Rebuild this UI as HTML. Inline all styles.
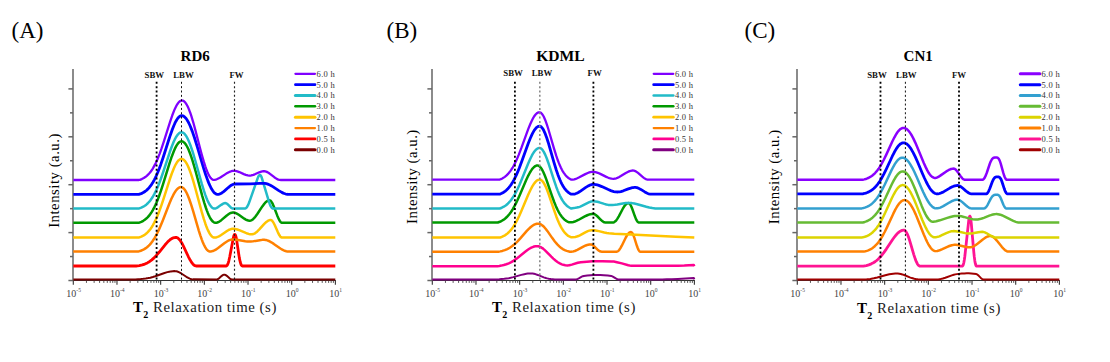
<!DOCTYPE html><html><head><meta charset="utf-8"><style>html,body{margin:0;padding:0;background:#fff;width:1110px;height:362px;overflow:hidden}svg{display:block}text{font-family:"Liberation Serif",serif}</style></head><body>
<svg width="1110" height="362" viewBox="0 0 1110 362">
<g><text x="11.5" y="37.7" font-size="23" fill="#000">(A)</text><text x="195.2" y="61.2" font-size="15" font-weight="bold" text-anchor="middle" fill="#000">RD6</text><text x="154.35" y="78.1" font-size="8.8" font-weight="bold" text-anchor="middle" fill="#111">SBW</text><text x="183.5" y="78.1" font-size="8.8" font-weight="bold" text-anchor="middle" fill="#111">LBW</text><text x="236.6" y="78.1" font-size="8.8" font-weight="bold" text-anchor="middle" fill="#111">FW</text><line x1="73" y1="69" x2="73" y2="280.5" stroke="#777" stroke-width="1.7"/><line x1="73.3" y1="280.5" x2="335.88" y2="280.5" stroke="#333" stroke-width="1.1"/><line x1="68.4" y1="280.5" x2="73" y2="280.5" stroke="#666" stroke-width="1.5"/><line x1="70" y1="256.55" x2="73" y2="256.55" stroke="#666" stroke-width="1.5"/><line x1="68.4" y1="232.6" x2="73" y2="232.6" stroke="#666" stroke-width="1.5"/><line x1="70" y1="208.65" x2="73" y2="208.65" stroke="#666" stroke-width="1.5"/><line x1="68.4" y1="184.7" x2="73" y2="184.7" stroke="#666" stroke-width="1.5"/><line x1="70" y1="160.75" x2="73" y2="160.75" stroke="#666" stroke-width="1.5"/><line x1="68.4" y1="136.8" x2="73" y2="136.8" stroke="#666" stroke-width="1.5"/><line x1="70" y1="112.85" x2="73" y2="112.85" stroke="#666" stroke-width="1.5"/><line x1="68.4" y1="88.9" x2="73" y2="88.9" stroke="#666" stroke-width="1.5"/><line x1="73.3" y1="280.5" x2="73.3" y2="284.8" stroke="#333" stroke-width="1.1"/><line x1="86.45" y1="280.5" x2="86.45" y2="282.9" stroke="#444" stroke-width="0.9"/><line x1="94.14" y1="280.5" x2="94.14" y2="282.9" stroke="#444" stroke-width="0.9"/><line x1="99.6" y1="280.5" x2="99.6" y2="282.9" stroke="#444" stroke-width="0.9"/><line x1="103.83" y1="280.5" x2="103.83" y2="282.9" stroke="#444" stroke-width="0.9"/><line x1="107.29" y1="280.5" x2="107.29" y2="282.9" stroke="#444" stroke-width="0.9"/><line x1="110.21" y1="280.5" x2="110.21" y2="282.9" stroke="#444" stroke-width="0.9"/><line x1="112.75" y1="280.5" x2="112.75" y2="282.9" stroke="#444" stroke-width="0.9"/><line x1="114.98" y1="280.5" x2="114.98" y2="282.9" stroke="#444" stroke-width="0.9"/><text x="73.6" y="297.3" font-size="10" fill="#444" text-anchor="middle">10<tspan dy="-5.5" font-size="5.5">-5</tspan></text><line x1="116.98" y1="280.5" x2="116.98" y2="284.8" stroke="#333" stroke-width="1.1"/><line x1="130.13" y1="280.5" x2="130.13" y2="282.9" stroke="#444" stroke-width="0.9"/><line x1="137.82" y1="280.5" x2="137.82" y2="282.9" stroke="#444" stroke-width="0.9"/><line x1="143.28" y1="280.5" x2="143.28" y2="282.9" stroke="#444" stroke-width="0.9"/><line x1="147.51" y1="280.5" x2="147.51" y2="282.9" stroke="#444" stroke-width="0.9"/><line x1="150.97" y1="280.5" x2="150.97" y2="282.9" stroke="#444" stroke-width="0.9"/><line x1="153.89" y1="280.5" x2="153.89" y2="282.9" stroke="#444" stroke-width="0.9"/><line x1="156.43" y1="280.5" x2="156.43" y2="282.9" stroke="#444" stroke-width="0.9"/><line x1="158.66" y1="280.5" x2="158.66" y2="282.9" stroke="#444" stroke-width="0.9"/><text x="117.28" y="297.3" font-size="10" fill="#444" text-anchor="middle">10<tspan dy="-5.5" font-size="5.5">-4</tspan></text><line x1="160.66" y1="280.5" x2="160.66" y2="284.8" stroke="#333" stroke-width="1.1"/><line x1="173.81" y1="280.5" x2="173.81" y2="282.9" stroke="#444" stroke-width="0.9"/><line x1="181.5" y1="280.5" x2="181.5" y2="282.9" stroke="#444" stroke-width="0.9"/><line x1="186.96" y1="280.5" x2="186.96" y2="282.9" stroke="#444" stroke-width="0.9"/><line x1="191.19" y1="280.5" x2="191.19" y2="282.9" stroke="#444" stroke-width="0.9"/><line x1="194.65" y1="280.5" x2="194.65" y2="282.9" stroke="#444" stroke-width="0.9"/><line x1="197.57" y1="280.5" x2="197.57" y2="282.9" stroke="#444" stroke-width="0.9"/><line x1="200.11" y1="280.5" x2="200.11" y2="282.9" stroke="#444" stroke-width="0.9"/><line x1="202.34" y1="280.5" x2="202.34" y2="282.9" stroke="#444" stroke-width="0.9"/><text x="160.96" y="297.3" font-size="10" fill="#444" text-anchor="middle">10<tspan dy="-5.5" font-size="5.5">-3</tspan></text><line x1="204.34" y1="280.5" x2="204.34" y2="284.8" stroke="#333" stroke-width="1.1"/><line x1="217.49" y1="280.5" x2="217.49" y2="282.9" stroke="#444" stroke-width="0.9"/><line x1="225.18" y1="280.5" x2="225.18" y2="282.9" stroke="#444" stroke-width="0.9"/><line x1="230.64" y1="280.5" x2="230.64" y2="282.9" stroke="#444" stroke-width="0.9"/><line x1="234.87" y1="280.5" x2="234.87" y2="282.9" stroke="#444" stroke-width="0.9"/><line x1="238.33" y1="280.5" x2="238.33" y2="282.9" stroke="#444" stroke-width="0.9"/><line x1="241.25" y1="280.5" x2="241.25" y2="282.9" stroke="#444" stroke-width="0.9"/><line x1="243.79" y1="280.5" x2="243.79" y2="282.9" stroke="#444" stroke-width="0.9"/><line x1="246.02" y1="280.5" x2="246.02" y2="282.9" stroke="#444" stroke-width="0.9"/><text x="204.64" y="297.3" font-size="10" fill="#444" text-anchor="middle">10<tspan dy="-5.5" font-size="5.5">-2</tspan></text><line x1="248.02" y1="280.5" x2="248.02" y2="284.8" stroke="#333" stroke-width="1.1"/><line x1="261.17" y1="280.5" x2="261.17" y2="282.9" stroke="#444" stroke-width="0.9"/><line x1="268.86" y1="280.5" x2="268.86" y2="282.9" stroke="#444" stroke-width="0.9"/><line x1="274.32" y1="280.5" x2="274.32" y2="282.9" stroke="#444" stroke-width="0.9"/><line x1="278.55" y1="280.5" x2="278.55" y2="282.9" stroke="#444" stroke-width="0.9"/><line x1="282.01" y1="280.5" x2="282.01" y2="282.9" stroke="#444" stroke-width="0.9"/><line x1="284.93" y1="280.5" x2="284.93" y2="282.9" stroke="#444" stroke-width="0.9"/><line x1="287.47" y1="280.5" x2="287.47" y2="282.9" stroke="#444" stroke-width="0.9"/><line x1="289.7" y1="280.5" x2="289.7" y2="282.9" stroke="#444" stroke-width="0.9"/><text x="248.32" y="297.3" font-size="10" fill="#444" text-anchor="middle">10<tspan dy="-5.5" font-size="5.5">-1</tspan></text><line x1="291.7" y1="280.5" x2="291.7" y2="284.8" stroke="#333" stroke-width="1.1"/><line x1="304.85" y1="280.5" x2="304.85" y2="282.9" stroke="#444" stroke-width="0.9"/><line x1="312.54" y1="280.5" x2="312.54" y2="282.9" stroke="#444" stroke-width="0.9"/><line x1="318" y1="280.5" x2="318" y2="282.9" stroke="#444" stroke-width="0.9"/><line x1="322.23" y1="280.5" x2="322.23" y2="282.9" stroke="#444" stroke-width="0.9"/><line x1="325.69" y1="280.5" x2="325.69" y2="282.9" stroke="#444" stroke-width="0.9"/><line x1="328.61" y1="280.5" x2="328.61" y2="282.9" stroke="#444" stroke-width="0.9"/><line x1="331.15" y1="280.5" x2="331.15" y2="282.9" stroke="#444" stroke-width="0.9"/><line x1="333.38" y1="280.5" x2="333.38" y2="282.9" stroke="#444" stroke-width="0.9"/><text x="292" y="297.3" font-size="10" fill="#444" text-anchor="middle">10<tspan dy="-5.5" font-size="5.5">0</tspan></text><line x1="335.38" y1="280.5" x2="335.38" y2="284.8" stroke="#333" stroke-width="1.1"/><text x="335.68" y="297.3" font-size="10" fill="#444" text-anchor="middle">10<tspan dy="-5.5" font-size="5.5">1</tspan></text><text x="133" y="312" font-size="15" font-weight="bold" fill="#000">T</text><text x="143.2" y="318.3" font-size="10" font-weight="bold" fill="#000">2</text><text x="153" y="312" font-size="14.8" letter-spacing="0.55" fill="#1a1a1a">Relaxation time (s)</text><text transform="translate(58.8,180.5) rotate(-90)" font-size="14.8" letter-spacing="0.5" text-anchor="middle" fill="#000">Intensity (a.u.)</text><path d="M73.3 279.4L135.3 279.4L140.8 279.1L143.3 278.86L145.8 278.53L148.3 278.1L150.3 277.67L152.8 277.02L155.3 276.26L163.8 273.25L167.3 272.15L169.3 271.66L170.8 271.39L172.8 271.16L174.3 271.1L175.3 271.14L176.3 271.28L177.3 271.54L178.8 272.11L179.8 272.59L181.3 273.46L186.3 276.79L188.3 277.96L189.8 278.65L190.8 278.99L191.8 279.24L192.8 279.37L216.8 279.39L217.3 279.3L217.8 279.12L218.8 278.52L221.8 275.82L222.8 275.13L223.3 274.89L223.8 274.75L224.3 274.7L224.8 274.75L225.3 274.89L225.8 275.13L226.8 275.82L229.8 278.52L230.8 279.12L231.3 279.3L231.8 279.39L335.3 279.4" fill="none" stroke="#7a0000" stroke-width="2" stroke-linejoin="round" stroke-linecap="butt"/><path d="M73.3 266L136.3 266L137.3 265.92L139.3 265.61L142.3 264.92L144.8 264.07L147.3 262.91L148.8 262.04L149.8 261.38L151.8 259.87L154.3 257.61L156.8 254.96L159.3 252.01L165.3 244.55L167.3 242.31L168.8 240.83L169.8 239.96L170.8 239.2L172.3 238.3L173.3 237.86L174.3 237.57L175.8 237.4L176.3 237.44L176.8 237.57L177.3 237.78L178.3 238.44L179.3 239.41L179.8 240L180.8 241.4L181.8 243.03L183.3 245.85L188.3 256.53L190.3 260.37L191.8 262.73L192.8 263.99L193.8 264.96L194.8 265.62L195.8 265.96L196.3 266L226.3 266L226.8 265.77L227.3 265.12L227.8 264.12L228.3 262.77L228.8 261.07L229.8 256.49L233.3 237.99L233.8 235.88L234.3 234.7L234.8 234.33L235.3 234.76L235.8 235.98L236.3 238.15L236.8 241.11L238.8 254.56L239.3 257.63L239.8 260.17L240.3 262.26L240.8 263.91L241.3 265.1L241.8 265.78L242.3 266L335.3 266" fill="none" stroke="#ff0000" stroke-width="2.8" stroke-linejoin="round" stroke-linecap="butt"/><path d="M73.3 251.5L137.8 251.5L138.3 251.48L138.8 251.35L140.8 250.73L142.8 249.9L144.3 249.11L145.8 248.16L147.3 247L148.8 245.64L149.8 244.6L151.3 242.83L152.3 241.5L153.8 239.28L154.8 237.65L155.8 235.89L157.3 233.02L158.8 229.88L160.3 226.5L162.8 220.43L169.3 203.76L171.3 199.06L173.3 194.92L174.3 193.11L175.3 191.51L176.3 190.13L177.3 188.99L178.3 188.12L179.3 187.5L180.3 187.17L180.8 187.11L181.3 187.12L181.8 187.22L182.3 187.42L183.3 188.09L184.3 189.14L184.8 189.79L185.8 191.36L186.8 193.25L187.8 195.45L189.3 199.26L191.3 205.15L193.3 211.7L198.8 230.57L200.3 235.3L201.8 239.61L202.8 242.19L203.8 244.51L205.3 247.42L206.3 248.95L207.3 250.13L208.3 250.96L208.8 251.23L209.3 251.41L209.8 251.49L211.3 251.39L212.8 251.01L214.3 250.39L215.8 249.58L217.8 248.27L224.3 243.28L225.8 242.21L227.3 241.26L228.8 240.46L230.3 239.86L231.8 239.5L233.3 239.4L234.8 239.47L236.8 239.69L245.3 241.22L247.3 241.48L249.3 241.6L250.8 241.57L252.8 241.38L259.8 240.17L262.3 239.87L264.3 239.81L265.3 239.9L266.3 240.09L267.3 240.38L268.8 240.97L271.3 242.3L273.8 243.92L279.3 247.79L280.8 248.76L282.3 249.63L283.8 250.37L284.8 250.78L286.3 251.23L287.3 251.42L288.8 251.5L335.3 251.5" fill="none" stroke="#ff8000" stroke-width="2.5" stroke-linejoin="round" stroke-linecap="butt"/><path d="M73.3 237.6L138.3 237.6L138.8 237.57L139.3 237.42L141.3 236.66L143.3 235.65L144.8 234.68L146.3 233.51L147.8 232.11L149.3 230.44L150.3 229.17L151.8 227L152.8 225.38L154.3 222.67L155.3 220.67L156.3 218.52L157.8 215.01L159.3 211.18L160.8 207.05L163.3 199.63L169.8 179.26L171.8 173.52L173.8 168.45L174.8 166.24L175.8 164.28L176.8 162.6L177.8 161.21L178.8 160.14L179.8 159.39L180.8 158.98L181.3 158.91L181.8 158.92L182.3 159.01L182.8 159.2L183.8 159.84L184.8 160.83L185.8 162.15L186.8 163.8L187.8 165.77L188.8 168.03L189.8 170.56L190.8 173.34L191.8 176.35L193.3 181.22L195.3 188.25L201.8 212.18L203.8 218.89L205.3 223.45L206.3 226.21L207.3 228.71L208.3 230.94L209.3 232.88L210.3 234.5L211.3 235.79L212.3 236.74L213.3 237.34L213.8 237.51L214.3 237.59L215.3 237.54L216.8 237.2L218.3 236.61L219.3 236.1L220.8 235.21L226.3 231.44L228.3 230.24L229.3 229.74L230.3 229.33L231.3 229.03L232.3 228.85L233.3 228.8L234.8 228.93L235.8 229.11L237.3 229.5L239.8 230.4L245.8 232.94L247.3 233.47L248.8 233.9L250.3 234.19L251.3 234.28L252.3 234.28L253.3 234.07L254.3 233.66L255.3 233.07L256.3 232.32L257.3 231.44L259.3 229.4L263.8 224.36L265.3 222.86L266.3 221.98L267.8 220.92L268.8 220.41L269.8 220.1L270.8 220L271.3 220.14L271.8 220.47L272.3 220.96L273.3 222.37L273.8 223.25L274.8 225.27L277.8 232.11L279.3 235.07L280.3 236.52L280.8 237.05L281.3 237.41L281.8 237.58L335.3 237.6" fill="none" stroke="#ffc400" stroke-width="2.5" stroke-linejoin="round" stroke-linecap="butt"/><path d="M73.3 222.8L138.3 222.8L138.8 222.77L139.3 222.61L141.3 221.83L143.3 220.78L144.8 219.78L146.3 218.57L147.8 217.11L149.3 215.38L150.3 214.07L151.8 211.83L152.8 210.15L154.3 207.34L155.3 205.27L156.3 203.04L157.8 199.41L159.3 195.44L160.8 191.16L163.3 183.47L169.8 162.38L171.8 156.44L173.8 151.19L174.8 148.9L175.8 146.88L176.8 145.13L177.8 143.7L178.8 142.58L179.8 141.81L180.3 141.56L180.8 141.39L181.3 141.31L181.8 141.32L182.3 141.41L183.3 141.86L184.3 142.66L185.3 143.79L186.3 145.24L187.3 147.01L188.3 149.08L189.3 151.43L190.3 154.05L191.3 156.9L192.3 159.96L193.8 164.9L195.8 171.99L202.3 196.07L204.3 202.86L205.8 207.5L206.8 210.33L207.8 212.91L208.8 215.24L209.8 217.28L210.8 219.02L211.8 220.44L212.8 221.54L213.8 222.3L214.8 222.71L215.3 222.79L215.8 222.79L216.3 222.74L217.3 222.5L218.8 221.84L219.8 221.24L221.3 220.16L226.8 215.46L228.8 214L229.8 213.41L230.8 212.95L231.8 212.64L232.8 212.5L233.8 212.55L234.8 212.77L235.8 213.11L236.8 213.58L238.8 214.78L244.3 218.68L245.8 219.57L246.8 220.04L248.3 220.54L249.3 220.69L250.3 220.64L251.3 220.32L252.3 219.74L253.3 218.92L254.3 217.91L255.3 216.73L257.3 213.99L262.3 206.43L263.8 204.4L264.8 203.2L266.3 201.73L267.3 201L268.3 200.52L269.3 200.31L269.8 200.34L270.3 200.56L270.8 200.98L271.3 201.57L272.3 203.18L272.8 204.18L273.8 206.46L277.3 215.65L278.8 219.13L279.8 220.95L280.3 221.66L280.8 222.22L281.3 222.6L281.8 222.78L335.3 222.8" fill="none" stroke="#009900" stroke-width="2.5" stroke-linejoin="round" stroke-linecap="butt"/><path d="M73.3 208.6L138.3 208.6L138.8 208.57L139.3 208.42L141.3 207.69L143.3 206.71L144.8 205.77L146.3 204.64L147.8 203.27L149.3 201.66L150.3 200.42L151.8 198.33L152.8 196.75L154.3 194.12L155.3 192.19L156.3 190.1L157.8 186.7L159.3 182.98L160.8 178.98L163.3 171.78L169.8 152.04L171.8 146.47L173.8 141.56L174.8 139.42L175.8 137.52L176.8 135.89L177.8 134.54L178.8 133.5L179.8 132.78L180.8 132.38L181.3 132.31L181.8 132.32L182.3 132.41L182.8 132.59L183.8 133.21L184.8 134.17L185.8 135.45L186.8 137.05L187.8 138.96L188.8 141.15L189.8 143.6L190.8 146.3L191.8 149.22L193.3 153.94L195.3 160.75L201.8 183.95L203.8 190.46L205.3 194.88L206.3 197.55L207.3 199.98L208.3 202.15L209.3 204.02L210.3 205.59L211.3 206.84L212.3 207.77L213.3 208.35L213.8 208.52L214.3 208.59L214.8 208.58L215.3 208.5L216.3 208.16L217.8 207.35L221.3 204.82L222.8 203.88L223.8 203.42L224.3 203.25L225.3 203.1L225.8 203.14L226.3 203.31L227.3 203.96L228.3 204.89L230.8 207.48L231.8 208.23L232.3 208.47L232.8 208.59L233.3 208.6L244.8 208.6L245.3 208.51L245.8 208.25L246.3 207.84L246.8 207.27L247.3 206.54L248.3 204.62L249.3 202.05L257.8 177.86L258.3 176.65L258.8 175.77L259.3 175.25L259.8 175.07L260.3 175.23L260.8 175.74L261.3 176.59L261.8 177.79L268.8 201.2L269.8 204.15L270.3 205.35L270.8 206.36L271.3 207.18L271.8 207.82L272.3 208.26L272.8 208.53L273.3 208.6L335.3 208.6" fill="none" stroke="#22bbc8" stroke-width="2.5" stroke-linejoin="round" stroke-linecap="butt"/><path d="M73.3 194.4L138.8 194.4L140.3 193.94L142.3 193.09L143.8 192.27L145.3 191.27L146.8 190.05L147.8 189.11L149.3 187.48L150.3 186.23L151.8 184.11L152.8 182.52L154.3 179.85L155.3 177.88L156.3 175.76L157.8 172.3L159.3 168.51L160.8 164.42L163.3 157.04L168.3 141.28L170.3 135.17L172.3 129.51L173.8 125.72L174.8 123.46L175.8 121.45L176.8 119.71L177.8 118.27L178.8 117.13L179.8 116.32L180.8 115.84L181.3 115.73L181.8 115.7L182.8 115.88L183.8 116.36L184.8 117.13L185.8 118.19L186.8 119.53L187.8 121.14L188.8 123.01L190.3 126.27L192.3 131.37L194.8 138.73L197.3 146.87L201.8 162.22L203.8 168.83L205.8 175.02L207.8 180.61L208.8 183.12L209.8 185.41L210.8 187.48L211.8 189.3L212.8 190.86L213.8 192.14L214.8 193.15L215.8 193.86L216.8 194.28L217.8 194.4L218.3 194.36L219.3 194.15L220.8 193.53L221.8 192.94L223.3 191.87L224.8 190.63L228.3 187.54L230.3 185.95L231.3 185.28L232.3 184.73L233.8 184.17L234.3 184.07L235.3 183.99L250.3 183.79L259.8 183.47L263.8 183.4L264.8 183.43L266.3 183.67L267.8 184.11L269.3 184.72L270.8 185.47L272.8 186.64L278.8 190.59L281.8 192.38L283.3 193.12L284.3 193.54L285.8 194.03L286.8 194.25L287.8 194.37L288.8 194.4L335.3 194.4" fill="none" stroke="#0000ff" stroke-width="2.8" stroke-linejoin="round" stroke-linecap="butt"/><path d="M73.3 180L138.8 180L139.3 179.97L139.8 179.81L141.8 179.05L143.8 178.03L145.3 177.05L146.8 175.87L148.3 174.45L149.8 172.76L150.8 171.48L152.3 169.29L153.3 167.66L154.8 164.92L155.8 162.9L156.8 160.73L158.3 157.18L159.8 153.31L161.3 149.14L163.8 141.64L170.3 121.07L172.3 115.27L174.3 110.15L175.3 107.92L176.3 105.94L177.3 104.24L178.3 102.84L179.3 101.75L180.3 101L181.3 100.58L181.8 100.51L182.3 100.52L182.8 100.62L183.3 100.82L184.3 101.51L185.3 102.57L186.3 103.99L187.3 105.76L188.3 107.86L189.3 110.28L190.3 112.98L191.3 115.95L193.3 122.55L195.3 129.84L199.8 147.24L201.8 154.74L203.8 161.68L205.3 166.36L206.3 169.17L207.3 171.71L208.3 173.94L209.3 175.84L210.3 177.41L211.3 178.61L212.3 179.45L212.8 179.72L213.3 179.9L213.8 179.95L214.3 179.9L215.8 179.55L217.3 179L218.8 178.28L220.3 177.44L226.3 173.6L228.8 172.21L230.3 171.56L231.3 171.22L232.8 170.89L233.8 170.8L235.3 170.89L236.3 171.08L237.3 171.35L239.3 172.07L243.8 174.08L245.8 174.86L247.8 175.41L249.3 175.59L250.3 175.58L251.3 175.45L253.3 174.9L254.8 174.32L259.3 172.31L261.3 171.61L262.3 171.37L263.3 171.23L264.3 171.21L265.3 171.36L266.8 171.87L267.8 172.39L268.8 173L270.3 174.07L274.3 177.21L276.3 178.58L277.3 179.14L278.3 179.57L279.8 179.95L280.8 180L335.3 180" fill="none" stroke="#7f00ff" stroke-width="2.3" stroke-linejoin="round" stroke-linecap="butt"/><line x1="156.6" y1="81.8" x2="156.6" y2="280" stroke="#000" stroke-width="1.8" stroke-dasharray="2 2.35"/><line x1="181.5" y1="81.8" x2="181.5" y2="280" stroke="#111" stroke-width="1" stroke-dasharray="2 2.35"/><line x1="234.5" y1="81.8" x2="234.5" y2="280" stroke="#222" stroke-width="1.15" stroke-dasharray="2 2.35"/><line x1="295.4" y1="73.8" x2="315" y2="73.8" stroke="#7f00ff" stroke-width="2.2" stroke-linecap="round"/><text x="316.6" y="76.7" font-size="8.5" letter-spacing="0.3" fill="#333">6.0 h</text><line x1="295.4" y1="84.65" x2="315" y2="84.65" stroke="#0000ff" stroke-width="2.6" stroke-linecap="round"/><text x="316.6" y="87.55" font-size="8.5" letter-spacing="0.3" fill="#333">5.0 h</text><line x1="295.4" y1="95.5" x2="315" y2="95.5" stroke="#22bbc8" stroke-width="3" stroke-linecap="round"/><text x="316.6" y="98.4" font-size="8.5" letter-spacing="0.3" fill="#333">4.0 h</text><line x1="295.4" y1="106.35" x2="315" y2="106.35" stroke="#009900" stroke-width="2.5" stroke-linecap="round"/><text x="316.6" y="109.25" font-size="8.5" letter-spacing="0.3" fill="#333">3.0 h</text><line x1="295.4" y1="117.2" x2="315" y2="117.2" stroke="#ffc400" stroke-width="3" stroke-linecap="round"/><text x="316.6" y="120.1" font-size="8.5" letter-spacing="0.3" fill="#333">2.0 h</text><line x1="295.4" y1="128.05" x2="315" y2="128.05" stroke="#ff8000" stroke-width="2.2" stroke-linecap="round"/><text x="316.6" y="130.95" font-size="8.5" letter-spacing="0.3" fill="#333">1.0 h</text><line x1="295.4" y1="138.9" x2="315" y2="138.9" stroke="#ff0000" stroke-width="2.6" stroke-linecap="round"/><text x="316.6" y="141.8" font-size="8.5" letter-spacing="0.3" fill="#333">0.5 h</text><line x1="295.4" y1="149.75" x2="315" y2="149.75" stroke="#7a0000" stroke-width="3" stroke-linecap="round"/><text x="316.6" y="152.65" font-size="8.5" letter-spacing="0.3" fill="#333">0.0 h</text></g>
<g><text x="386.5" y="37.7" font-size="23" fill="#000">(B)</text><text x="560.4" y="61.2" font-size="15.6" font-weight="bold" text-anchor="middle" fill="#000">KDML</text><text x="513.15" y="76.1" font-size="8.8" font-weight="bold" text-anchor="middle" fill="#111">SBW</text><text x="542" y="76.1" font-size="8.8" font-weight="bold" text-anchor="middle" fill="#111">LBW</text><text x="594.65" y="76.1" font-size="8.8" font-weight="bold" text-anchor="middle" fill="#111">FW</text><line x1="432" y1="69" x2="432" y2="280.5" stroke="#777" stroke-width="1.7"/><line x1="432.3" y1="280.5" x2="694.88" y2="280.5" stroke="#333" stroke-width="1.1"/><line x1="427.4" y1="280.5" x2="432" y2="280.5" stroke="#666" stroke-width="1.5"/><line x1="429" y1="256.55" x2="432" y2="256.55" stroke="#666" stroke-width="1.5"/><line x1="427.4" y1="232.6" x2="432" y2="232.6" stroke="#666" stroke-width="1.5"/><line x1="429" y1="208.65" x2="432" y2="208.65" stroke="#666" stroke-width="1.5"/><line x1="427.4" y1="184.7" x2="432" y2="184.7" stroke="#666" stroke-width="1.5"/><line x1="429" y1="160.75" x2="432" y2="160.75" stroke="#666" stroke-width="1.5"/><line x1="427.4" y1="136.8" x2="432" y2="136.8" stroke="#666" stroke-width="1.5"/><line x1="429" y1="112.85" x2="432" y2="112.85" stroke="#666" stroke-width="1.5"/><line x1="427.4" y1="88.9" x2="432" y2="88.9" stroke="#666" stroke-width="1.5"/><line x1="432.3" y1="280.5" x2="432.3" y2="284.8" stroke="#333" stroke-width="1.1"/><line x1="445.45" y1="280.5" x2="445.45" y2="282.9" stroke="#444" stroke-width="0.9"/><line x1="453.14" y1="280.5" x2="453.14" y2="282.9" stroke="#444" stroke-width="0.9"/><line x1="458.6" y1="280.5" x2="458.6" y2="282.9" stroke="#444" stroke-width="0.9"/><line x1="462.83" y1="280.5" x2="462.83" y2="282.9" stroke="#444" stroke-width="0.9"/><line x1="466.29" y1="280.5" x2="466.29" y2="282.9" stroke="#444" stroke-width="0.9"/><line x1="469.21" y1="280.5" x2="469.21" y2="282.9" stroke="#444" stroke-width="0.9"/><line x1="471.75" y1="280.5" x2="471.75" y2="282.9" stroke="#444" stroke-width="0.9"/><line x1="473.98" y1="280.5" x2="473.98" y2="282.9" stroke="#444" stroke-width="0.9"/><text x="432.6" y="297.3" font-size="10" fill="#444" text-anchor="middle">10<tspan dy="-5.5" font-size="5.5">-5</tspan></text><line x1="475.98" y1="280.5" x2="475.98" y2="284.8" stroke="#333" stroke-width="1.1"/><line x1="489.13" y1="280.5" x2="489.13" y2="282.9" stroke="#444" stroke-width="0.9"/><line x1="496.82" y1="280.5" x2="496.82" y2="282.9" stroke="#444" stroke-width="0.9"/><line x1="502.28" y1="280.5" x2="502.28" y2="282.9" stroke="#444" stroke-width="0.9"/><line x1="506.51" y1="280.5" x2="506.51" y2="282.9" stroke="#444" stroke-width="0.9"/><line x1="509.97" y1="280.5" x2="509.97" y2="282.9" stroke="#444" stroke-width="0.9"/><line x1="512.89" y1="280.5" x2="512.89" y2="282.9" stroke="#444" stroke-width="0.9"/><line x1="515.43" y1="280.5" x2="515.43" y2="282.9" stroke="#444" stroke-width="0.9"/><line x1="517.66" y1="280.5" x2="517.66" y2="282.9" stroke="#444" stroke-width="0.9"/><text x="476.28" y="297.3" font-size="10" fill="#444" text-anchor="middle">10<tspan dy="-5.5" font-size="5.5">-4</tspan></text><line x1="519.66" y1="280.5" x2="519.66" y2="284.8" stroke="#333" stroke-width="1.1"/><line x1="532.81" y1="280.5" x2="532.81" y2="282.9" stroke="#444" stroke-width="0.9"/><line x1="540.5" y1="280.5" x2="540.5" y2="282.9" stroke="#444" stroke-width="0.9"/><line x1="545.96" y1="280.5" x2="545.96" y2="282.9" stroke="#444" stroke-width="0.9"/><line x1="550.19" y1="280.5" x2="550.19" y2="282.9" stroke="#444" stroke-width="0.9"/><line x1="553.65" y1="280.5" x2="553.65" y2="282.9" stroke="#444" stroke-width="0.9"/><line x1="556.57" y1="280.5" x2="556.57" y2="282.9" stroke="#444" stroke-width="0.9"/><line x1="559.11" y1="280.5" x2="559.11" y2="282.9" stroke="#444" stroke-width="0.9"/><line x1="561.34" y1="280.5" x2="561.34" y2="282.9" stroke="#444" stroke-width="0.9"/><text x="519.96" y="297.3" font-size="10" fill="#444" text-anchor="middle">10<tspan dy="-5.5" font-size="5.5">-3</tspan></text><line x1="563.34" y1="280.5" x2="563.34" y2="284.8" stroke="#333" stroke-width="1.1"/><line x1="576.49" y1="280.5" x2="576.49" y2="282.9" stroke="#444" stroke-width="0.9"/><line x1="584.18" y1="280.5" x2="584.18" y2="282.9" stroke="#444" stroke-width="0.9"/><line x1="589.64" y1="280.5" x2="589.64" y2="282.9" stroke="#444" stroke-width="0.9"/><line x1="593.87" y1="280.5" x2="593.87" y2="282.9" stroke="#444" stroke-width="0.9"/><line x1="597.33" y1="280.5" x2="597.33" y2="282.9" stroke="#444" stroke-width="0.9"/><line x1="600.25" y1="280.5" x2="600.25" y2="282.9" stroke="#444" stroke-width="0.9"/><line x1="602.79" y1="280.5" x2="602.79" y2="282.9" stroke="#444" stroke-width="0.9"/><line x1="605.02" y1="280.5" x2="605.02" y2="282.9" stroke="#444" stroke-width="0.9"/><text x="563.64" y="297.3" font-size="10" fill="#444" text-anchor="middle">10<tspan dy="-5.5" font-size="5.5">-2</tspan></text><line x1="607.02" y1="280.5" x2="607.02" y2="284.8" stroke="#333" stroke-width="1.1"/><line x1="620.17" y1="280.5" x2="620.17" y2="282.9" stroke="#444" stroke-width="0.9"/><line x1="627.86" y1="280.5" x2="627.86" y2="282.9" stroke="#444" stroke-width="0.9"/><line x1="633.32" y1="280.5" x2="633.32" y2="282.9" stroke="#444" stroke-width="0.9"/><line x1="637.55" y1="280.5" x2="637.55" y2="282.9" stroke="#444" stroke-width="0.9"/><line x1="641.01" y1="280.5" x2="641.01" y2="282.9" stroke="#444" stroke-width="0.9"/><line x1="643.93" y1="280.5" x2="643.93" y2="282.9" stroke="#444" stroke-width="0.9"/><line x1="646.47" y1="280.5" x2="646.47" y2="282.9" stroke="#444" stroke-width="0.9"/><line x1="648.7" y1="280.5" x2="648.7" y2="282.9" stroke="#444" stroke-width="0.9"/><text x="607.32" y="297.3" font-size="10" fill="#444" text-anchor="middle">10<tspan dy="-5.5" font-size="5.5">-1</tspan></text><line x1="650.7" y1="280.5" x2="650.7" y2="284.8" stroke="#333" stroke-width="1.1"/><line x1="663.85" y1="280.5" x2="663.85" y2="282.9" stroke="#444" stroke-width="0.9"/><line x1="671.54" y1="280.5" x2="671.54" y2="282.9" stroke="#444" stroke-width="0.9"/><line x1="677" y1="280.5" x2="677" y2="282.9" stroke="#444" stroke-width="0.9"/><line x1="681.23" y1="280.5" x2="681.23" y2="282.9" stroke="#444" stroke-width="0.9"/><line x1="684.69" y1="280.5" x2="684.69" y2="282.9" stroke="#444" stroke-width="0.9"/><line x1="687.61" y1="280.5" x2="687.61" y2="282.9" stroke="#444" stroke-width="0.9"/><line x1="690.15" y1="280.5" x2="690.15" y2="282.9" stroke="#444" stroke-width="0.9"/><line x1="692.38" y1="280.5" x2="692.38" y2="282.9" stroke="#444" stroke-width="0.9"/><text x="651" y="297.3" font-size="10" fill="#444" text-anchor="middle">10<tspan dy="-5.5" font-size="5.5">0</tspan></text><line x1="694.38" y1="280.5" x2="694.38" y2="284.8" stroke="#333" stroke-width="1.1"/><text x="694.68" y="297.3" font-size="10" fill="#444" text-anchor="middle">10<tspan dy="-5.5" font-size="5.5">1</tspan></text><text x="492" y="312" font-size="15" font-weight="bold" fill="#000">T</text><text x="502.2" y="318.3" font-size="10" font-weight="bold" fill="#000">2</text><text x="512" y="312" font-size="14.8" letter-spacing="0.55" fill="#1a1a1a">Relaxation time (s)</text><text transform="translate(416.9,176.6) rotate(-90)" font-size="14.8" letter-spacing="0.5" text-anchor="middle" fill="#000">Intensity (a.u.)</text><path d="M432.3 279.4L496.3 279.4L499.3 279.27L504.3 278.83L508.8 278.15L513.3 277.14L521.3 274.9L524.3 274.17L526.3 273.79L527.8 273.58L530.8 273.4L532.8 273.52L533.8 273.69L535.3 274.07L537.8 274.94L543.8 277.34L545.8 277.99L547.3 278.39L548.8 278.71L550.8 279.04L554.8 279.4L575.8 279.39L576.8 279.2L577.8 278.83L578.8 278.32L581.8 276.63L582.8 276.2L583.8 275.93L587.3 275.53L590.8 275.23L593.8 275.06L596.8 275L600.3 275.05L603.8 275.22L607.8 275.55L611.3 275.95L611.8 276.09L612.8 276.54L615.8 278.44L616.8 278.98L617.8 279.32L618.3 279.39L662.3 279.4L666.8 279.35L671.8 279.2L677.8 278.92L693.8 277.9L694.3 279.4" fill="none" stroke="#800080" stroke-width="2" stroke-linejoin="round" stroke-linecap="butt"/><path d="M432.3 266.2L497.3 266.2L499.3 265.94L501.3 265.6L503.8 265.04L506.3 264.28L508.8 263.3L511.3 262.07L513.8 260.58L516.8 258.49L519.3 256.54L525.8 251.22L527.8 249.74L529.3 248.75L531.3 247.64L533.3 246.82L534.3 246.53L535.3 246.33L536.8 246.2L538.3 246.32L539.8 246.75L541.3 247.48L542.3 248.12L543.3 248.85L544.8 250.13L546.3 251.55L551.3 256.68L553.3 258.62L555.8 260.78L557.8 262.23L559.8 263.43L561.8 264.38L563.3 264.84L565.3 265.21L567.8 265.38L568.8 265.37L569.3 265.27L571.8 264.65L577.8 262.8L579.3 262.45L580.8 262.22L586.8 261.7L592.3 261.36L596.8 261.22L602.3 261.21L611.8 261.39L613.8 261.56L615.8 261.93L621.8 263.38L628.3 265.22L629.8 265.51L631.3 265.68L678.3 265.69L684.3 265.51L693.8 265L694.3 266.2" fill="none" stroke="#ff0090" stroke-width="2.5" stroke-linejoin="round" stroke-linecap="butt"/><path d="M432.3 251.7L498.3 251.7L500.3 251.38L502.3 250.92L504.8 250.15L507.3 249.11L509.8 247.76L512.3 246.06L514.8 244.02L516.3 242.62L517.8 241.12L520.3 238.4L526.8 230.94L528.8 228.85L530.8 227.01L532.8 225.51L533.8 224.92L534.8 224.43L535.8 224.07L536.8 223.83L538.3 223.7L538.8 223.74L539.8 223.96L540.3 224.14L541.3 224.65L542.8 225.74L544.3 227.2L545.8 228.95L547.3 230.91L552.3 238.09L554.8 241.48L557.3 244.43L559.3 246.41L560.3 247.27L561.8 248.39L562.8 249.04L564.3 249.85L565.3 250.31L566.8 250.88L568.3 251.32L569.8 251.67L571.3 251.69L572.3 251.61L573.3 251.42L574.8 250.98L577.3 249.91L583.3 246.65L585.8 245.47L587.3 244.93L588.3 244.66L589.3 244.48L590.3 244.4L590.8 244.42L591.3 244.51L591.8 244.68L592.8 245.22L594.3 246.41L597.3 249.32L598.3 250.21L599.3 250.94L599.8 251.23L600.8 251.62L601.8 251.7L616.3 251.7L616.8 251.66L617.3 251.51L617.8 251.25L618.3 250.88L618.8 250.4L619.3 249.83L620.3 248.4L621.8 245.72L625.8 237.5L627.3 234.93L628.3 233.61L629.3 232.68L629.8 232.38L630.3 232.18L630.8 232.1L631.3 232.19L631.8 232.53L632.3 233.13L632.8 233.97L633.3 235.03L634.3 237.67L636.8 245.54L637.8 248.3L638.3 249.43L638.8 250.36L639.3 251.06L639.8 251.51L640.3 251.69L694.3 251.7" fill="none" stroke="#ff8000" stroke-width="2.5" stroke-linejoin="round" stroke-linecap="butt"/><path d="M432.3 237.6L499.8 237.6L500.3 237.5L501.8 236.94L503.8 235.98L505.3 235.08L506.3 234.38L507.8 233.16L508.8 232.23L510.3 230.63L511.3 229.43L512.8 227.42L513.8 225.93L514.8 224.32L516.3 221.68L517.8 218.8L519.3 215.68L521.8 210.06L528.3 194.6L530.3 190.26L532.3 186.45L533.3 184.8L534.3 183.35L535.3 182.12L536.3 181.12L537.3 180.36L538.3 179.86L539.3 179.62L539.8 179.6L540.3 179.67L540.8 179.85L541.3 180.13L541.8 180.51L542.8 181.56L543.3 182.23L544.3 183.84L545.8 186.85L547.3 190.47L548.8 194.54L553.8 209.41L556.3 216.43L557.8 220.22L558.8 222.55L559.8 224.69L560.8 226.65L561.8 228.43L563.3 230.75L564.3 232.08L565.8 233.78L567.3 235.15L568.3 235.88L569.3 236.47L570.8 237.14L571.3 237.31L571.8 237.33L575.3 236.93L576.8 236.57L578.3 236.02L579.8 235.34L585.3 232.36L587.8 231.19L589.3 230.66L590.3 230.4L591.3 230.25L592.3 230.2L594.3 230.31L596.8 230.69L598.8 231.12L604.3 232.48L606.8 232.97L608.8 233.22L614.3 233.67L625.8 234.35L645.8 235.24L675.8 236.75L694.3 237.6" fill="none" stroke="#ffc400" stroke-width="2.5" stroke-linejoin="round" stroke-linecap="butt"/><path d="M432.3 222.5L497.8 222.49L499.8 221.77L501.8 220.8L503.3 219.89L504.3 219.19L505.8 217.96L506.8 217.03L508.3 215.43L509.3 214.23L510.8 212.21L511.8 210.72L512.8 209.12L514.3 206.49L515.8 203.63L517.3 200.53L519.8 194.97L526.3 179.8L528.3 175.58L529.8 172.75L530.8 171.08L531.8 169.59L532.8 168.31L533.8 167.26L534.8 166.44L535.8 165.88L536.8 165.56L537.3 165.51L537.8 165.52L538.3 165.63L538.8 165.84L539.3 166.16L540.3 167.08L540.8 167.68L541.8 169.15L543.3 171.98L544.8 175.43L546.3 179.35L551.8 195.37L554.3 202.21L555.8 205.89L556.8 208.14L557.8 210.21L558.8 212.1L559.8 213.81L560.8 215.34L561.8 216.7L563.3 218.44L564.3 219.41L565.8 220.6L567.3 221.52L568.8 222.2L569.3 222.37L571.8 222.23L573.3 221.96L574.8 221.51L576.3 220.93L578.3 219.99L584.8 216.44L587.3 215.25L588.8 214.67L590.3 214.24L591.8 213.97L592.8 213.9L593.3 213.91L594.3 214.16L594.8 214.38L595.8 215L597.3 216.25L600.8 219.77L601.8 220.69L603.3 221.79L604.3 222.28L604.8 222.42L605.8 222.5L612.8 222.5L613.3 222.47L613.8 222.34L614.3 222.11L615.3 221.37L616.3 220.29L617.3 218.89L618.8 216.35L622.8 208.71L623.8 207.02L624.8 205.57L625.8 204.42L626.8 203.61L627.3 203.34L627.8 203.17L628.3 203.1L628.8 203.17L629.3 203.45L629.8 203.94L630.3 204.63L630.8 205.5L631.3 206.53L632.3 208.99L634.8 216.07L635.8 218.62L636.3 219.71L636.8 220.65L637.3 221.41L637.8 221.98L638.3 222.34L638.8 222.5L694.3 222.5" fill="none" stroke="#009900" stroke-width="2.5" stroke-linejoin="round" stroke-linecap="butt"/><path d="M432.3 208.5L499.8 208.49L501.8 207.72L503.8 206.7L505.3 205.73L506.3 204.99L507.8 203.69L508.8 202.69L510.3 200.99L511.3 199.72L512.8 197.58L513.8 196L514.8 194.29L516.3 191.51L517.8 188.47L519.3 185.18L521.8 179.28L528.3 163.17L530.3 158.69L531.8 155.7L532.8 153.92L533.8 152.34L534.8 150.99L535.8 149.87L536.8 149L537.8 148.4L538.8 148.07L539.3 148.01L539.8 148.02L540.3 148.14L540.8 148.36L541.3 148.7L542.3 149.67L542.8 150.31L543.8 151.88L545.3 154.88L546.8 158.54L548.3 162.71L553.8 179.71L556.3 186.96L557.8 190.87L558.8 193.26L559.8 195.46L560.8 197.46L561.8 199.28L562.8 200.9L563.8 202.34L565.3 204.19L566.3 205.22L567.8 206.51L569.3 207.51L570.8 208.29L571.3 208.47L573.8 208.11L576.8 207.54L579.3 206.92L580.3 206.56L581.8 205.9L586.8 203.29L589.3 202.15L591.3 201.53L592.3 201.36L593.3 201.3L595.3 201.44L597.3 201.8L599.3 202.33L604.3 203.92L606.3 204.48L608.3 204.89L610.3 205.09L612.3 205.05L614.8 204.81L617.3 204.42L622.8 203.43L625.8 203.03L627.3 202.92L628.8 202.9L631.8 203.12L634.3 203.52L637.3 204.19L646.3 206.74L649.3 207.5L652.3 208.1L655.3 208.44L657.3 208.5L694.3 208.5" fill="none" stroke="#22bbc8" stroke-width="2.5" stroke-linejoin="round" stroke-linecap="butt"/><path d="M432.3 194.2L499.8 194.19L501.8 193.32L503.8 192.18L505.3 191.09L506.3 190.25L507.8 188.79L508.8 187.67L510.3 185.76L511.3 184.33L512.8 181.92L513.8 180.15L514.8 178.23L516.3 175.11L517.8 171.68L519.3 167.99L521.8 161.36L526.3 148.71L528.3 143.25L530.3 138.22L531.8 134.85L532.8 132.86L533.8 131.08L534.8 129.56L535.8 128.3L536.8 127.33L537.8 126.65L538.8 126.28L539.3 126.21L539.8 126.22L540.3 126.36L540.8 126.61L541.3 126.98L542.3 128.08L542.8 128.8L543.8 130.56L545.3 133.93L546.8 138.04L548.3 142.73L553.8 161.84L556.3 169.99L557.8 174.39L558.8 177.07L559.8 179.54L560.8 181.8L561.8 183.83L563.3 186.5L564.3 188.02L565.8 189.95L566.8 191.03L568.3 192.37L569.8 193.41L571.3 194.2L573.3 194.18L574.3 194.05L575.3 193.8L576.8 193.23L578.3 192.46L579.8 191.55L585.8 187.38L588.3 185.86L589.8 185.16L590.8 184.8L592.3 184.47L593.3 184.4L594.3 184.44L595.8 184.63L597.3 184.96L598.8 185.41L601.8 186.57L608.3 189.57L610.8 190.6L612.3 191.12L613.8 191.54L615.3 191.84L616.3 191.95L617.3 192L618.3 191.97L619.3 191.85L620.8 191.55L623.3 190.8L628.3 188.89L630.8 188.06L632.3 187.69L633.3 187.52L634.3 187.42L635.3 187.41L636.8 187.64L637.8 187.95L638.8 188.37L640.8 189.43L644.8 191.93L646.8 193.04L647.8 193.49L648.8 193.85L650.3 194.16L694.3 194.2" fill="none" stroke="#0000ff" stroke-width="2.8" stroke-linejoin="round" stroke-linecap="butt"/><path d="M432.3 179.6L499.3 179.6L499.8 179.55L500.8 179.15L502.3 178.42L503.3 177.85L504.8 176.83L506.3 175.6L507.8 174.14L508.8 173.02L510.3 171.11L511.3 169.68L512.8 167.28L513.8 165.51L514.8 163.6L516.3 160.49L518.8 154.66L521.3 148.18L526.3 134.3L528.3 128.92L530.3 123.96L531.8 120.66L532.8 118.7L533.8 116.97L534.8 115.49L535.8 114.27L536.8 113.33L537.8 112.69L538.8 112.36L539.3 112.3L539.8 112.34L540.3 112.49L540.8 112.77L541.3 113.16L542.3 114.3L542.8 115.03L543.8 116.81L545.3 120.2L546.8 124.31L548.3 128.98L553.8 147.91L556.3 155.94L557.8 160.27L558.8 162.9L559.8 165.33L560.8 167.53L561.8 169.53L562.8 171.32L563.8 172.9L565.3 174.93L566.3 176.06L567.8 177.46L569.3 178.57L570.8 179.42L571.3 179.6L572.8 179.54L574.3 179.28L575.8 178.84L577.3 178.27L578.8 177.58L585.3 174.12L587.8 172.97L589.3 172.42L590.3 172.14L591.8 171.87L592.8 171.8L593.8 171.83L595.3 172.05L596.3 172.29L597.8 172.79L600.3 173.86L606.3 176.88L607.8 177.54L609.3 178.09L610.8 178.51L611.8 178.69L613.3 178.8L614.3 178.74L615.3 178.56L616.3 178.28L617.3 177.9L618.8 177.21L620.8 176.08L625.8 172.98L628.3 171.66L629.8 171.06L630.8 170.77L631.8 170.58L632.8 170.5L633.3 170.52L634.3 170.72L635.3 171.12L636.3 171.68L637.3 172.37L638.3 173.16L642.3 176.69L643.8 177.88L644.8 178.55L645.8 179.08L646.8 179.44L647.3 179.54L648.3 179.6L694.3 179.6" fill="none" stroke="#7f00ff" stroke-width="2.3" stroke-linejoin="round" stroke-linecap="butt"/><line x1="514.9" y1="81.8" x2="514.9" y2="280" stroke="#000" stroke-width="1.8" stroke-dasharray="2 2.35"/><line x1="539.8" y1="81.8" x2="539.8" y2="280" stroke="#8a8a8a" stroke-width="1.6" stroke-dasharray="2 2.35"/><line x1="593.4" y1="81.8" x2="593.4" y2="280" stroke="#000" stroke-width="1.8" stroke-dasharray="2 2.35"/><line x1="653.7" y1="73.8" x2="673.3" y2="73.8" stroke="#7f00ff" stroke-width="2.2" stroke-linecap="round"/><text x="674.9" y="76.7" font-size="8.5" letter-spacing="0.3" fill="#333">6.0 h</text><line x1="653.7" y1="84.65" x2="673.3" y2="84.65" stroke="#0000ff" stroke-width="2.8" stroke-linecap="round"/><text x="674.9" y="87.55" font-size="8.5" letter-spacing="0.3" fill="#333">5.0 h</text><line x1="653.7" y1="95.5" x2="673.3" y2="95.5" stroke="#22bbc8" stroke-width="2.6" stroke-linecap="round"/><text x="674.9" y="98.4" font-size="8.5" letter-spacing="0.3" fill="#333">4.0 h</text><line x1="653.7" y1="106.35" x2="673.3" y2="106.35" stroke="#009900" stroke-width="2.5" stroke-linecap="round"/><text x="674.9" y="109.25" font-size="8.5" letter-spacing="0.3" fill="#333">3.0 h</text><line x1="653.7" y1="117.2" x2="673.3" y2="117.2" stroke="#ffc400" stroke-width="2.8" stroke-linecap="round"/><text x="674.9" y="120.1" font-size="8.5" letter-spacing="0.3" fill="#333">2.0 h</text><line x1="653.7" y1="128.05" x2="673.3" y2="128.05" stroke="#ff8000" stroke-width="2.2" stroke-linecap="round"/><text x="674.9" y="130.95" font-size="8.5" letter-spacing="0.3" fill="#333">1.0 h</text><line x1="653.7" y1="138.9" x2="673.3" y2="138.9" stroke="#ff0090" stroke-width="2.6" stroke-linecap="round"/><text x="674.9" y="141.8" font-size="8.5" letter-spacing="0.3" fill="#333">0.5 h</text><line x1="653.7" y1="149.75" x2="673.3" y2="149.75" stroke="#800080" stroke-width="3" stroke-linecap="round"/><text x="674.9" y="152.65" font-size="8.5" letter-spacing="0.3" fill="#333">0.0 h</text></g>
<g><text x="744.5" y="37.7" font-size="23" fill="#000">(C)</text><text x="918.2" y="61.2" font-size="15" font-weight="bold" text-anchor="middle" fill="#000">CN1</text><text x="876.95" y="77.8" font-size="8.8" font-weight="bold" text-anchor="middle" fill="#111">SBW</text><text x="906.35" y="77.8" font-size="8.8" font-weight="bold" text-anchor="middle" fill="#111">LBW</text><text x="959" y="77.8" font-size="8.8" font-weight="bold" text-anchor="middle" fill="#111">FW</text><line x1="797" y1="69" x2="797" y2="280.5" stroke="#777" stroke-width="1.7"/><line x1="797.3" y1="280.5" x2="1059.88" y2="280.5" stroke="#333" stroke-width="1.1"/><line x1="792.4" y1="280.5" x2="797" y2="280.5" stroke="#666" stroke-width="1.5"/><line x1="794" y1="256.55" x2="797" y2="256.55" stroke="#666" stroke-width="1.5"/><line x1="792.4" y1="232.6" x2="797" y2="232.6" stroke="#666" stroke-width="1.5"/><line x1="794" y1="208.65" x2="797" y2="208.65" stroke="#666" stroke-width="1.5"/><line x1="792.4" y1="184.7" x2="797" y2="184.7" stroke="#666" stroke-width="1.5"/><line x1="794" y1="160.75" x2="797" y2="160.75" stroke="#666" stroke-width="1.5"/><line x1="792.4" y1="136.8" x2="797" y2="136.8" stroke="#666" stroke-width="1.5"/><line x1="794" y1="112.85" x2="797" y2="112.85" stroke="#666" stroke-width="1.5"/><line x1="792.4" y1="88.9" x2="797" y2="88.9" stroke="#666" stroke-width="1.5"/><line x1="797.3" y1="280.5" x2="797.3" y2="284.8" stroke="#333" stroke-width="1.1"/><line x1="810.45" y1="280.5" x2="810.45" y2="282.9" stroke="#444" stroke-width="0.9"/><line x1="818.14" y1="280.5" x2="818.14" y2="282.9" stroke="#444" stroke-width="0.9"/><line x1="823.6" y1="280.5" x2="823.6" y2="282.9" stroke="#444" stroke-width="0.9"/><line x1="827.83" y1="280.5" x2="827.83" y2="282.9" stroke="#444" stroke-width="0.9"/><line x1="831.29" y1="280.5" x2="831.29" y2="282.9" stroke="#444" stroke-width="0.9"/><line x1="834.21" y1="280.5" x2="834.21" y2="282.9" stroke="#444" stroke-width="0.9"/><line x1="836.75" y1="280.5" x2="836.75" y2="282.9" stroke="#444" stroke-width="0.9"/><line x1="838.98" y1="280.5" x2="838.98" y2="282.9" stroke="#444" stroke-width="0.9"/><text x="797.6" y="297.3" font-size="10" fill="#444" text-anchor="middle">10<tspan dy="-5.5" font-size="5.5">-5</tspan></text><line x1="840.98" y1="280.5" x2="840.98" y2="284.8" stroke="#333" stroke-width="1.1"/><line x1="854.13" y1="280.5" x2="854.13" y2="282.9" stroke="#444" stroke-width="0.9"/><line x1="861.82" y1="280.5" x2="861.82" y2="282.9" stroke="#444" stroke-width="0.9"/><line x1="867.28" y1="280.5" x2="867.28" y2="282.9" stroke="#444" stroke-width="0.9"/><line x1="871.51" y1="280.5" x2="871.51" y2="282.9" stroke="#444" stroke-width="0.9"/><line x1="874.97" y1="280.5" x2="874.97" y2="282.9" stroke="#444" stroke-width="0.9"/><line x1="877.89" y1="280.5" x2="877.89" y2="282.9" stroke="#444" stroke-width="0.9"/><line x1="880.43" y1="280.5" x2="880.43" y2="282.9" stroke="#444" stroke-width="0.9"/><line x1="882.66" y1="280.5" x2="882.66" y2="282.9" stroke="#444" stroke-width="0.9"/><text x="841.28" y="297.3" font-size="10" fill="#444" text-anchor="middle">10<tspan dy="-5.5" font-size="5.5">-4</tspan></text><line x1="884.66" y1="280.5" x2="884.66" y2="284.8" stroke="#333" stroke-width="1.1"/><line x1="897.81" y1="280.5" x2="897.81" y2="282.9" stroke="#444" stroke-width="0.9"/><line x1="905.5" y1="280.5" x2="905.5" y2="282.9" stroke="#444" stroke-width="0.9"/><line x1="910.96" y1="280.5" x2="910.96" y2="282.9" stroke="#444" stroke-width="0.9"/><line x1="915.19" y1="280.5" x2="915.19" y2="282.9" stroke="#444" stroke-width="0.9"/><line x1="918.65" y1="280.5" x2="918.65" y2="282.9" stroke="#444" stroke-width="0.9"/><line x1="921.57" y1="280.5" x2="921.57" y2="282.9" stroke="#444" stroke-width="0.9"/><line x1="924.11" y1="280.5" x2="924.11" y2="282.9" stroke="#444" stroke-width="0.9"/><line x1="926.34" y1="280.5" x2="926.34" y2="282.9" stroke="#444" stroke-width="0.9"/><text x="884.96" y="297.3" font-size="10" fill="#444" text-anchor="middle">10<tspan dy="-5.5" font-size="5.5">-3</tspan></text><line x1="928.34" y1="280.5" x2="928.34" y2="284.8" stroke="#333" stroke-width="1.1"/><line x1="941.49" y1="280.5" x2="941.49" y2="282.9" stroke="#444" stroke-width="0.9"/><line x1="949.18" y1="280.5" x2="949.18" y2="282.9" stroke="#444" stroke-width="0.9"/><line x1="954.64" y1="280.5" x2="954.64" y2="282.9" stroke="#444" stroke-width="0.9"/><line x1="958.87" y1="280.5" x2="958.87" y2="282.9" stroke="#444" stroke-width="0.9"/><line x1="962.33" y1="280.5" x2="962.33" y2="282.9" stroke="#444" stroke-width="0.9"/><line x1="965.25" y1="280.5" x2="965.25" y2="282.9" stroke="#444" stroke-width="0.9"/><line x1="967.79" y1="280.5" x2="967.79" y2="282.9" stroke="#444" stroke-width="0.9"/><line x1="970.02" y1="280.5" x2="970.02" y2="282.9" stroke="#444" stroke-width="0.9"/><text x="928.64" y="297.3" font-size="10" fill="#444" text-anchor="middle">10<tspan dy="-5.5" font-size="5.5">-2</tspan></text><line x1="972.02" y1="280.5" x2="972.02" y2="284.8" stroke="#333" stroke-width="1.1"/><line x1="985.17" y1="280.5" x2="985.17" y2="282.9" stroke="#444" stroke-width="0.9"/><line x1="992.86" y1="280.5" x2="992.86" y2="282.9" stroke="#444" stroke-width="0.9"/><line x1="998.32" y1="280.5" x2="998.32" y2="282.9" stroke="#444" stroke-width="0.9"/><line x1="1002.55" y1="280.5" x2="1002.55" y2="282.9" stroke="#444" stroke-width="0.9"/><line x1="1006.01" y1="280.5" x2="1006.01" y2="282.9" stroke="#444" stroke-width="0.9"/><line x1="1008.93" y1="280.5" x2="1008.93" y2="282.9" stroke="#444" stroke-width="0.9"/><line x1="1011.47" y1="280.5" x2="1011.47" y2="282.9" stroke="#444" stroke-width="0.9"/><line x1="1013.7" y1="280.5" x2="1013.7" y2="282.9" stroke="#444" stroke-width="0.9"/><text x="972.32" y="297.3" font-size="10" fill="#444" text-anchor="middle">10<tspan dy="-5.5" font-size="5.5">-1</tspan></text><line x1="1015.7" y1="280.5" x2="1015.7" y2="284.8" stroke="#333" stroke-width="1.1"/><line x1="1028.85" y1="280.5" x2="1028.85" y2="282.9" stroke="#444" stroke-width="0.9"/><line x1="1036.54" y1="280.5" x2="1036.54" y2="282.9" stroke="#444" stroke-width="0.9"/><line x1="1042" y1="280.5" x2="1042" y2="282.9" stroke="#444" stroke-width="0.9"/><line x1="1046.23" y1="280.5" x2="1046.23" y2="282.9" stroke="#444" stroke-width="0.9"/><line x1="1049.69" y1="280.5" x2="1049.69" y2="282.9" stroke="#444" stroke-width="0.9"/><line x1="1052.61" y1="280.5" x2="1052.61" y2="282.9" stroke="#444" stroke-width="0.9"/><line x1="1055.15" y1="280.5" x2="1055.15" y2="282.9" stroke="#444" stroke-width="0.9"/><line x1="1057.38" y1="280.5" x2="1057.38" y2="282.9" stroke="#444" stroke-width="0.9"/><text x="1016" y="297.3" font-size="10" fill="#444" text-anchor="middle">10<tspan dy="-5.5" font-size="5.5">0</tspan></text><line x1="1059.38" y1="280.5" x2="1059.38" y2="284.8" stroke="#333" stroke-width="1.1"/><text x="1059.68" y="297.3" font-size="10" fill="#444" text-anchor="middle">10<tspan dy="-5.5" font-size="5.5">1</tspan></text><text x="857" y="313" font-size="15" font-weight="bold" fill="#000">T</text><text x="867.2" y="319.3" font-size="10" font-weight="bold" fill="#000">2</text><text x="877" y="313" font-size="14.8" letter-spacing="0.55" fill="#1a1a1a">Relaxation time (s)</text><text transform="translate(778.6,176.8) rotate(-90)" font-size="14.8" letter-spacing="0.5" text-anchor="middle" fill="#000">Intensity (a.u.)</text><path d="M797.3 279.4L864.8 279.4L866.8 279.35L868.3 279.24L870.3 279L873.8 278.34L877.3 277.46L885.3 275.17L889.3 274.24L891.3 273.9L893.3 273.66L895.3 273.52L896.8 273.5L897.8 273.54L899.3 273.71L900.8 274.01L902.3 274.41L904.8 275.27L909.8 277.31L911.8 278.07L914.3 278.82L916.3 279.22L917.8 279.37L918.8 279.4L937.8 279.4L938.8 279.34L940.3 279.14L942.8 278.56L945.3 277.75L951.8 275.36L953.8 274.74L955.3 274.38L956.8 274.12L961.8 273.57L964.3 273.38L966.8 273.3L968.8 273.33L971.3 273.47L973.8 273.71L976.3 274.07L976.8 274.26L977.8 274.93L978.8 275.85L980.8 277.89L981.8 278.74L982.3 279.05L982.8 279.28L983.3 279.39L1059.3 279.4" fill="none" stroke="#a00000" stroke-width="2" stroke-linejoin="round" stroke-linecap="butt"/><path d="M797.3 266.1L863.3 266.09L866.3 265.54L868.8 264.84L871.3 263.85L872.8 263.1L873.8 262.51L875.3 261.51L876.3 260.75L877.8 259.47L878.8 258.53L881.3 255.81L883.8 252.65L886.3 249.1L892.8 239.29L894.8 236.54L896.3 234.7L897.3 233.61L898.3 232.65L899.3 231.83L900.3 231.15L901.3 230.64L902.3 230.3L903.3 230.12L903.8 230.1L904.3 230.18L904.8 230.44L905.3 230.86L905.8 231.44L906.3 232.17L907.3 234.09L908.3 236.53L909.3 239.4L910.8 244.29L913.8 254.58L915.3 259.13L916.3 261.66L917.3 263.69L917.8 264.49L918.3 265.13L918.8 265.61L919.3 265.93L919.8 266.09L920.3 266.1L962.3 266.1L962.8 265.79L963.3 264.63L963.8 262.75L964.3 259.99L964.8 256.52L965.3 252.19L968.8 219.96L969.3 217.11L969.8 216.11L970.3 216.78L970.8 219.36L971.3 223.55L973.8 252.17L974.3 256.93L974.8 260.67L975.3 263.48L975.8 265.24L976.3 266.1L1059.3 266.1" fill="none" stroke="#ff1493" stroke-width="2.8" stroke-linejoin="round" stroke-linecap="butt"/><path d="M797.3 251.6L863.8 251.6L865.3 251.29L866.8 250.86L868.3 250.32L869.8 249.65L871.3 248.83L872.3 248.19L873.8 247.06L874.8 246.2L876.3 244.72L877.3 243.6L878.8 241.73L879.8 240.33L880.8 238.83L882.3 236.37L884.8 231.77L887.3 226.65L893.3 213.65L895.3 209.68L896.8 207.01L897.8 205.42L898.8 204.01L899.8 202.79L900.8 201.78L901.8 201L902.8 200.46L903.8 200.16L904.3 200.1L904.8 200.11L905.8 200.31L906.8 200.77L907.8 201.46L908.8 202.4L909.8 203.57L910.8 204.96L911.8 206.55L912.8 208.33L913.8 210.28L915.8 214.63L917.8 219.41L923.8 234.48L925.8 239.09L927.3 242.22L928.3 244.1L929.3 245.81L930.8 247.98L931.8 249.12L932.8 250.01L933.8 250.64L934.3 250.86L934.8 251.01L935.8 251.13L937.3 250.92L938.8 250.54L940.3 250.03L941.8 249.42L947.3 246.86L949.3 246.02L951.8 245.21L953.8 244.86L954.8 244.8L955.8 244.83L957.8 245.05L959.8 245.43L965.3 246.75L967.8 247.18L969.3 247.29L970.3 247.28L971.8 247L972.8 246.64L973.8 246.18L975.8 244.96L977.8 243.48L982.8 239.43L985.3 237.69L986.8 236.88L987.8 236.46L989.3 236.08L990.3 236L991.3 236.14L992.3 236.52L993.3 237.13L994.3 237.93L995.3 238.89L996.8 240.55L1001.8 246.81L1003.8 249.02L1004.8 249.93L1005.8 250.67L1006.8 251.22L1007.8 251.53L1008.8 251.6L1059.3 251.6" fill="none" stroke="#ff8000" stroke-width="2.5" stroke-linejoin="round" stroke-linecap="butt"/><path d="M797.3 237.5L861.8 237.5L862.8 237.36L864.8 236.81L866.3 236.28L867.8 235.62L869.3 234.8L870.3 234.16L871.8 233.05L872.8 232.19L874.3 230.72L875.3 229.6L876.8 227.72L877.8 226.33L878.8 224.82L880.3 222.36L882.8 217.72L885.3 212.54L891.8 198.26L893.8 194.28L895.3 191.63L896.3 190.06L897.3 188.68L898.3 187.51L899.3 186.55L900.3 185.83L901.3 185.35L902.3 185.12L902.8 185.1L903.3 185.14L904.3 185.42L905.3 185.93L906.3 186.69L907.3 187.68L908.3 188.89L909.3 190.32L910.3 191.94L912.3 195.72L914.3 200.08L916.3 204.87L922.3 219.93L924.3 224.55L925.8 227.69L926.8 229.6L927.8 231.33L928.8 232.88L929.8 234.22L930.8 235.32L931.8 236.19L932.8 236.81L933.3 237.03L933.8 237.18L934.8 237.31L936.3 237.15L937.8 236.81L939.3 236.32L940.8 235.72L946.3 233.12L948.8 232.08L950.3 231.59L951.3 231.35L952.8 231.13L953.8 231.1L955.3 231.18L957.3 231.43L959.3 231.81L965.3 233.13L967.3 233.44L969.3 233.59L970.8 233.57L972.8 233.33L978.3 232.22L980.3 231.91L982.3 231.8L983.3 231.9L984.8 232.34L986.3 233.03L990.8 235.72L992.8 236.76L994.3 237.28L995.3 237.47L995.8 237.5L1059.3 237.5" fill="none" stroke="#dcd400" stroke-width="2.5" stroke-linejoin="round" stroke-linecap="butt"/><path d="M797.3 222.6L861.8 222.6L862.8 222.46L864.8 221.93L866.3 221.41L867.8 220.76L869.3 219.96L870.3 219.34L871.8 218.25L872.8 217.41L874.3 215.97L875.3 214.88L876.8 213.05L877.8 211.69L878.8 210.21L880.3 207.8L882.8 203.27L885.3 198.21L891.8 184.26L893.8 180.37L895.3 177.78L896.3 176.25L897.3 174.9L898.3 173.75L899.3 172.82L900.3 172.11L901.3 171.64L902.3 171.42L902.8 171.4L903.3 171.45L904.3 171.74L905.3 172.28L906.3 173.08L906.8 173.58L907.8 174.74L908.8 176.14L909.8 177.75L910.8 179.55L911.8 181.54L913.8 185.96L915.8 190.83L921.8 206.13L923.8 210.76L925.3 213.87L926.3 215.73L927.3 217.37L928.8 219.33L929.8 220.34L930.3 220.75L931.3 221.38L931.8 221.6L932.8 221.83L933.3 221.84L934.8 221.61L936.3 221.29L939.8 220.32L947.3 217.83L950.3 216.95L953.3 216.28L954.8 216.06L956.3 215.93L957.8 215.91L958.8 215.96L961.3 216.32L963.8 216.91L969.8 218.64L972.8 219.31L975.3 219.58L976.3 219.6L977.8 219.48L979.8 219.1L981.8 218.53L983.8 217.82L989.3 215.66L991.8 214.83L994.3 214.28L995.8 214.12L996.8 214.1L997.8 214.18L999.3 214.43L1000.3 214.69L1001.8 215.2L1003.3 215.82L1004.8 216.53L1010.8 219.71L1013.3 220.92L1015.8 221.88L1017.3 222.29L1018.3 222.47L1019.3 222.58L1020.3 222.6L1059.3 222.6" fill="none" stroke="#66bb33" stroke-width="2.5" stroke-linejoin="round" stroke-linecap="butt"/><path d="M797.3 208.4L861.8 208.39L863.3 208.05L864.8 207.61L867.3 206.63L868.8 205.85L869.8 205.24L871.3 204.17L872.3 203.35L873.8 201.94L874.8 200.87L876.3 199.07L877.3 197.73L878.3 196.29L879.8 193.91L882.3 189.45L884.8 184.46L891.3 170.64L893.3 166.76L894.8 164.18L895.8 162.65L896.8 161.29L897.8 160.13L898.8 159.19L899.8 158.46L900.8 157.98L901.8 157.73L902.3 157.7L903.3 157.81L904.3 158.13L905.3 158.67L906.3 159.41L907.3 160.36L908.3 161.5L909.3 162.82L910.3 164.32L912.3 167.77L914.3 171.75L916.8 177.25L921.3 187.71L923.3 192.21L925.3 196.4L926.8 199.24L928.8 202.55L929.8 203.96L930.8 205.2L931.8 206.24L932.8 207.09L933.8 207.73L934.8 208.16L935.8 208.37L937.3 208.34L938.8 208.06L940.3 207.58L941.8 206.93L943.3 206.16L949.8 202.27L952.3 200.98L953.8 200.37L954.8 200.06L956.3 199.77L957.3 199.7L957.8 199.72L958.8 199.94L959.8 200.37L960.8 200.97L962.3 202.12L965.8 205.28L967.3 206.54L968.8 207.57L969.8 208.05L970.3 208.22L971.3 208.39L984.3 208.4L984.8 208.23L985.3 207.87L986.3 206.84L986.8 206.17L987.8 204.53L990.8 198.67L991.8 197.08L992.3 196.44L992.8 195.92L993.3 195.5L993.8 195.19L994.3 194.96L995.3 194.74L996.3 194.7L997.3 194.73L997.8 194.81L998.3 195L998.8 195.31L999.3 195.78L999.8 196.43L1000.3 197.26L1000.8 198.25L1003.3 204.41L1003.8 205.51L1004.3 206.45L1004.8 207.23L1005.3 207.84L1005.8 208.3L1006.3 208.4L1059.3 208.4" fill="none" stroke="#33a0d0" stroke-width="2.5" stroke-linejoin="round" stroke-linecap="butt"/><path d="M797.3 193.8L862.8 193.8L864.3 193.49L865.8 193.07L867.3 192.53L868.8 191.87L870.3 191.06L871.3 190.42L872.8 189.31L873.8 188.45L875.3 186.99L876.3 185.88L877.8 184.02L878.8 182.64L879.8 181.16L881.3 178.72L883.8 174.16L886.3 169.09L892.3 156.22L894.3 152.29L895.8 149.64L896.8 148.07L897.8 146.67L898.8 145.46L899.8 144.47L900.8 143.69L901.8 143.16L902.8 142.86L903.3 142.8L904.3 142.87L905.3 143.16L906.3 143.67L907.3 144.4L908.3 145.34L909.3 146.48L910.3 147.81L911.3 149.32L913.3 152.83L915.3 156.88L917.8 162.49L922.3 173.17L924.3 177.75L926.3 182L927.8 184.88L928.8 186.62L929.8 188.2L930.8 189.61L931.8 190.83L932.8 191.85L933.8 192.66L934.8 193.26L935.3 193.48L936.3 193.75L936.8 193.8L937.8 193.76L939.3 193.51L940.8 193.04L942.3 192.41L943.8 191.65L949.8 188.1L952.3 186.8L953.8 186.18L954.8 185.87L956.3 185.57L957.3 185.5L957.8 185.52L958.8 185.73L959.8 186.14L960.8 186.72L962.3 187.81L965.8 190.83L967.3 192.03L968.8 193L969.8 193.47L970.3 193.63L971.3 193.8L986.3 193.8L986.8 193.64L987.3 193.16L987.8 192.53L988.3 191.74L988.8 190.8L989.8 188.48L992.3 181.77L993.3 179.62L993.8 178.78L994.3 178.11L994.8 177.6L995.3 177.24L995.8 177L996.3 176.87L997.3 176.8L998.3 176.83L998.8 176.94L999.3 177.17L999.8 177.56L1000.3 178.14L1000.8 178.95L1001.3 179.97L1001.8 181.21L1004.3 188.85L1004.8 190.21L1005.3 191.38L1005.8 192.35L1006.3 193.11L1006.8 193.67L1007.3 193.8L1059.3 193.8" fill="none" stroke="#0000ff" stroke-width="2.8" stroke-linejoin="round" stroke-linecap="butt"/><path d="M797.3 179.7L862.8 179.7L864.3 179.39L865.8 178.96L867.3 178.41L868.8 177.74L870.3 176.91L871.3 176.27L872.8 175.14L873.8 174.27L875.3 172.78L876.3 171.66L877.8 169.77L878.8 168.37L879.8 166.86L881.3 164.39L883.8 159.75L886.3 154.6L892.3 141.53L894.3 137.54L895.8 134.85L896.8 133.25L897.8 131.83L898.8 130.61L899.8 129.59L900.8 128.81L901.8 128.26L902.8 127.96L903.3 127.91L904.3 127.98L905.3 128.28L906.3 128.81L907.3 129.58L908.3 130.56L909.3 131.75L910.3 133.14L911.3 134.72L913.3 138.38L915.3 142.59L917.3 147.22L923.8 162.97L925.8 167.39L927.3 170.39L928.8 173.05L929.3 173.79L930.3 175.06L931.3 176.1L932.3 176.92L933.3 177.5L933.8 177.7L934.8 177.91L935.8 177.88L936.3 177.75L937.3 177.34L938.8 176.56L940.3 175.64L946.3 171.45L948.8 169.97L950.3 169.28L951.3 168.94L952.8 168.64L953.8 168.61L954.3 168.72L954.8 168.95L955.3 169.29L956.3 170.22L957.8 172.11L960.3 175.76L961.3 177.13L962.3 178.29L962.8 178.76L963.3 179.16L963.8 179.45L964.3 179.64L964.8 179.7L982.8 179.7L983.3 179.51L983.8 178.98L984.3 178.32L984.8 177.5L985.8 175.41L986.8 172.76L989.8 163.74L990.8 161.31L991.8 159.49L992.3 158.82L992.8 158.31L993.3 157.93L993.8 157.67L994.8 157.43L996.3 157.41L996.8 157.46L997.3 157.6L997.8 157.88L998.3 158.32L998.8 158.97L999.3 159.84L999.8 160.95L1000.8 163.83L1003.3 172.91L1004.3 176.01L1004.8 177.25L1005.3 178.27L1005.8 179.06L1006.3 179.67L1059.3 179.7" fill="none" stroke="#8a00ff" stroke-width="2.5" stroke-linejoin="round" stroke-linecap="butt"/><line x1="880.5" y1="81.8" x2="880.5" y2="280" stroke="#000" stroke-width="1.8" stroke-dasharray="2 2.35"/><line x1="905.4" y1="81.8" x2="905.4" y2="280" stroke="#111" stroke-width="1" stroke-dasharray="2 2.35"/><line x1="959" y1="81.8" x2="959" y2="280" stroke="#000" stroke-width="1.8" stroke-dasharray="2 2.35"/><line x1="1020.3" y1="73.8" x2="1039.9" y2="73.8" stroke="#8a00ff" stroke-width="3" stroke-linecap="round"/><text x="1041.5" y="76.7" font-size="8.5" letter-spacing="0.3" fill="#333">6.0 h</text><line x1="1020.3" y1="84.65" x2="1039.9" y2="84.65" stroke="#0000ff" stroke-width="3" stroke-linecap="round"/><text x="1041.5" y="87.55" font-size="8.5" letter-spacing="0.3" fill="#333">5.0 h</text><line x1="1020.3" y1="95.5" x2="1039.9" y2="95.5" stroke="#33a0d0" stroke-width="3" stroke-linecap="round"/><text x="1041.5" y="98.4" font-size="8.5" letter-spacing="0.3" fill="#333">4.0 h</text><line x1="1020.3" y1="106.35" x2="1039.9" y2="106.35" stroke="#66bb33" stroke-width="3" stroke-linecap="round"/><text x="1041.5" y="109.25" font-size="8.5" letter-spacing="0.3" fill="#333">3.0 h</text><line x1="1020.3" y1="117.2" x2="1039.9" y2="117.2" stroke="#dcd400" stroke-width="3" stroke-linecap="round"/><text x="1041.5" y="120.1" font-size="8.5" letter-spacing="0.3" fill="#333">2.0 h</text><line x1="1020.3" y1="128.05" x2="1039.9" y2="128.05" stroke="#ff8000" stroke-width="3" stroke-linecap="round"/><text x="1041.5" y="130.95" font-size="8.5" letter-spacing="0.3" fill="#333">1.0 h</text><line x1="1020.3" y1="138.9" x2="1039.9" y2="138.9" stroke="#ff1493" stroke-width="3" stroke-linecap="round"/><text x="1041.5" y="141.8" font-size="8.5" letter-spacing="0.3" fill="#333">0.5 h</text><line x1="1020.3" y1="149.75" x2="1039.9" y2="149.75" stroke="#a00000" stroke-width="3" stroke-linecap="round"/><text x="1041.5" y="152.65" font-size="8.5" letter-spacing="0.3" fill="#333">0.0 h</text></g>
</svg></body></html>
